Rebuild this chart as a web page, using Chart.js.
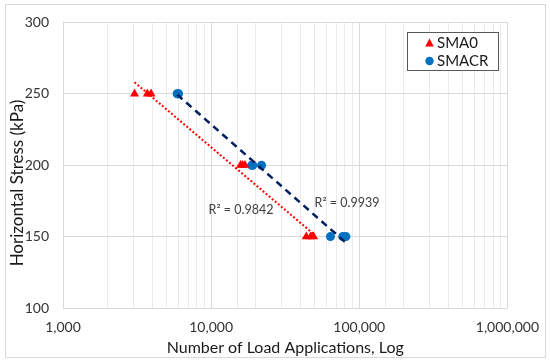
<!DOCTYPE html>
<html>
<head>
<meta charset="utf-8">
<script src="https://cdn.jsdelivr.net/npm/chart.js@4.4.1/dist/chart.umd.min.js"></script>
<style>
  html, body { margin: 0; padding: 0; background: #ffffff; }
  #wrap { width: 550px; height: 364px; position: relative; }
</style>
</head>
<body>
<div id="wrap"><canvas id="c" width="550" height="364"></canvas></div>
<script>
// ---- data ----
const seriesNames = ["SMA0", "SMACR"];
const sma0X = [3040, 3710, 3930, 15800, 16300, 16900, 43900, 47000, 49200];
const sma0Y = [250, 250, 250, 200, 200, 200, 150, 150, 150];
const smacrX = [5900, 5960, 6020, 18800, 19100, 21900, 63900, 77300, 81300];
const smacrY = [250, 250, 250, 200, 200, 200, 150, 150, 150];
const r2Labels = ["R\u00B2 = 0.9842", "R\u00B2 = 0.9939"];
const r2AnchorX = [9610, 49900];
const r2AnchorY = [168.5, 173.4];
const yTicks = [100, 150, 200, 250, 300];
const xMin = 1000, xMax = 1000000;
const xTitle = "Number of Load Applications, Log";
const yTitle = "Horizontal Stress (kPa)";

// logarithmic trendline (least squares of y on log10 x), spanning data range
function trend(xs, ys) {
  const lx = xs.map(v => Math.log10(v));
  const n = lx.length;
  const mx = lx.reduce((a, b) => a + b, 0) / n;
  const my = ys.reduce((a, b) => a + b, 0) / n;
  let sxy = 0, sxx = 0;
  for (let i = 0; i < n; i++) { sxy += (lx[i] - mx) * (ys[i] - my); sxx += (lx[i] - mx) ** 2; }
  const b = sxy / sxx, a = my - b * mx;
  const x0 = Math.min(...xs), x1 = Math.max(...xs);
  return [{x: x0, y: a + b * Math.log10(x0)}, {x: x1, y: a + b * Math.log10(x1)}];
}
const pts = (xs, ys) => xs.map((x, i) => ({x, y: ys[i]}));

const RED = "#ff0000", BLUE = "#0070c0", NAVY = "#002060";
const FONT = "Lato";

const extras = {
  id: "extras",
  beforeDraw(chart) {
    const ctx = chart.ctx;
    ctx.save();
    ctx.fillStyle = "#fff";
    ctx.fillRect(0, 0, chart.width, chart.height);
    ctx.strokeStyle = "#d9d9d9";
    ctx.lineWidth = 1;
    ctx.strokeRect(5.5, 4.5, 540, 353);
    ctx.restore();
  },
  afterDraw(chart) {
    const ctx = chart.ctx;
    const xs = chart.scales.x, ys = chart.scales.y;
    ctx.save();
    // R² labels
    ctx.fillStyle = "#404040";
    ctx.font = "12.5px " + FONT;
    ctx.textAlign = "left";
    ctx.textBaseline = "middle";
    for (let i = 0; i < r2Labels.length; i++) {
      ctx.fillText(r2Labels[i], xs.getPixelForValue(r2AnchorX[i]), ys.getPixelForValue(r2AnchorY[i]));
    }
    // axis titles
    ctx.fillStyle = "#1a1a1a";
    ctx.font = "16px " + FONT;
    ctx.textAlign = "center";
    ctx.fillText(xTitle, (chart.chartArea.left + chart.chartArea.right) / 2, 348);
    ctx.save();
    ctx.translate(18, 183);
    ctx.rotate(-Math.PI / 2);
    ctx.font = "17px " + FONT;
    ctx.fillText(yTitle, 0, 0);
    ctx.restore();
    // legend
    const bx = 407.5, by = 32.5, bw = 91, bh = 38;
    ctx.fillStyle = "#fff";
    ctx.fillRect(bx, by, bw, bh);
    ctx.strokeStyle = "#595959";
    ctx.lineWidth = 1;
    ctx.strokeRect(bx, by, bw, bh);
    ctx.font = "15px " + FONT;
    ctx.textAlign = "left";
    // triangle
    ctx.fillStyle = RED;
    ctx.beginPath();
    ctx.moveTo(429.5, 38.5); ctx.lineTo(433.8, 46.5); ctx.lineTo(425.2, 46.5); ctx.closePath(); ctx.fill();
    ctx.fillStyle = "#1a1a1a";
    ctx.fillText(seriesNames[0], 437, 43);
    ctx.fillStyle = BLUE;
    ctx.beginPath(); ctx.arc(429.5, 61, 4.2, 0, Math.PI * 2); ctx.fill();
    ctx.fillStyle = "#1a1a1a";
    ctx.fillText(seriesNames[1], 437, 61);
    ctx.restore();
  }
};

new Chart(document.getElementById("c"), {
  type: "scatter",
  data: {
    datasets: [
      { type: "line", label: seriesNames[0] + " trend", data: trend(sma0X, sma0Y), borderColor: RED, borderWidth: 2, borderDash: [2, 2], pointRadius: 0, fill: false, order: 0 },
      { type: "line", label: seriesNames[1] + " trend", data: trend(smacrX, smacrY), borderColor: NAVY, borderWidth: 2.5, borderDash: [7, 5], pointRadius: 0, fill: false, order: 0 },
      { label: seriesNames[0], data: pts(sma0X, sma0Y), pointStyle: "triangle", pointRadius: 5.2, backgroundColor: RED, borderColor: RED, borderWidth: 0, order: 1 },
      { label: seriesNames[1], data: pts(smacrX, smacrY), pointStyle: "circle", pointRadius: 4.5, backgroundColor: BLUE, borderColor: BLUE, borderWidth: 0, order: 1 }
    ]
  },
  options: {
    responsive: false,
    animation: false,
    devicePixelRatio: 1,
    layout: { padding: { left: 0, top: 13, right: 39, bottom: 0 } },
    plugins: { legend: { display: false }, tooltip: { enabled: false } },
    scales: {
      x: {
        type: "logarithmic",
        min: xMin, max: xMax,
        afterFit(s) { s.height = 56; },
        border: { display: false },
        grid: {
          drawTicks: false,
          color(ctx) {
            const v = ctx.tick && ctx.tick.value;
            const l = Math.log10(v);
            return Math.abs(l - Math.round(l)) < 1e-9 ? "#d9d9d9" : "#ebebeb";
          }
        },
        ticks: {
          autoSkip: false, maxRotation: 0, padding: 11,
          color: "#333333",
          font: { family: FONT, size: 14 },
          callback(v) {
            const l = Math.log10(v);
            return Math.abs(l - Math.round(l)) < 1e-9 ? Number(v).toLocaleString("en-US") : "";
          }
        }
      },
      y: {
        min: 100, max: 300,
        afterFit(s) { s.width = 63; },
        afterBuildTicks(s) { s.ticks = yTicks.map(v => ({value: v})); },
        border: { display: false },
        grid: { drawTicks: false, color: "#d9d9d9" },
        ticks: { padding: 14, color: "#333333", font: { family: FONT, size: 14 } }
      }
    }
  },
  plugins: [extras]
});
</script>
</body>
</html>
